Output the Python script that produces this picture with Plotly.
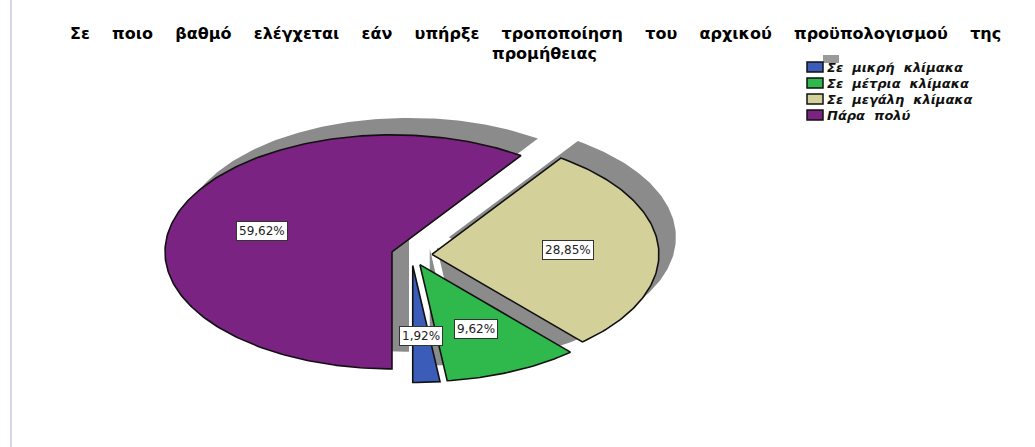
import numpy as np
import plotly.graph_objects as go

# ---- data ----
categories = ["Σε μικρή κλίμακα", "Σε μέτρια κλίμακα", "Σε μεγάλη κλίμακα", "Πάρα πολύ"]
percentages = [1.92, 9.62, 28.85, 59.62]
slice_colors = ["#3b5cb8", "#2fb84b", "#d4d09a", "#7a2382"]
title_words = ["Σε", "ποιο", "βαθμό", "ελέγχεται", "εάν", "υπήρξε", "τροποποίηση",
               "του", "αρχικού", "προϋπολογισμού", "της"]
title_tail = "προμήθειας"

# ---- layout constants (pixels) ----
W, H = 1035, 447
CX, CY = 411.5, 255.0       # pie centre
RX, RY = 227.0, 117.0       # horizontal / vertical radius of the flattened pie
EXPLODE = 0.09              # slice offset, fraction of radius
SHADOW_DX, SHADOW_DY = 17.0, 17.0   # drop-shadow offset (right, up)
LABEL_R = 0.6
SHADOW_COLOR = "#8b8b8b"

fig = go.Figure()

# angular extents: start at six o'clock and run counter-clockwise
fractions = np.array(percentages) / np.sum(percentages)
start = -np.pi / 2 + 2 * np.pi * np.concatenate([[0], np.cumsum(fractions)[:-1]])
end = start + 2 * np.pi * fractions
mid = (start + end) / 2

def wedge(a0, a1, ox, oy):
    t = np.linspace(a0, a1, max(8, int(np.degrees(a1 - a0))))
    xs = np.concatenate([[ox], ox + np.cos(t), [ox]])
    ys = np.concatenate([[oy], oy + np.sin(t), [oy]])
    return xs, ys

sdx, sdy = SHADOW_DX / RX, SHADOW_DY / RY

# shadows first, then the slices on top
for a0, a1, am in zip(start, end, mid):
    ox, oy = EXPLODE * np.cos(am), EXPLODE * np.sin(am)
    xs, ys = wedge(a0, a1, ox + sdx, oy + sdy)
    fig.add_trace(go.Scatter(x=xs, y=ys, mode="lines", fill="toself",
                             fillcolor=SHADOW_COLOR, line=dict(width=0),
                             hoverinfo="skip", showlegend=False))

for name, a0, a1, am, col in zip(categories, start, end, mid, slice_colors):
    ox, oy = EXPLODE * np.cos(am), EXPLODE * np.sin(am)
    xs, ys = wedge(a0, a1, ox, oy)
    fig.add_trace(go.Scatter(x=xs, y=ys, mode="lines", fill="toself",
                             fillcolor=col, line=dict(color="#111111", width=1.6),
                             name=name, hoverinfo="name", showlegend=False))

# percentage labels (smallest slice drawn last so it sits on top)
for v, am in list(zip(percentages, mid))[::-1]:
    ox, oy = EXPLODE * np.cos(am), EXPLODE * np.sin(am)
    fig.add_annotation(x=ox + LABEL_R * np.cos(am), y=oy + LABEL_R * np.sin(am),
                       xref="x", yref="y", showarrow=False,
                       text=f"{v:.2f}".replace(".", ",") + "%",
                       font=dict(family="DejaVu Sans", size=12, color="#222222"),
                       bgcolor="white", bordercolor="#333333", borderwidth=1, borderpad=2)

# ---- legend drawn by hand (compact rows) ----
def px(x):
    return x / W

def py(y):
    return 1 - y / H

# grey swatch for the shadow
fig.add_shape(type="rect", xref="paper", yref="paper",
              x0=px(823), x1=px(839), y0=py(63), y1=py(55),
              fillcolor="#9a9a9a", line=dict(width=0))
row_y = [67, 83, 99, 115]
for name, col, yc in zip(categories, slice_colors, row_y):
    fig.add_shape(type="rect", xref="paper", yref="paper",
                  x0=px(807), x1=px(823), y0=py(yc + 5), y1=py(yc - 5),
                  fillcolor=col, line=dict(color="#111111", width=1.5))
    fig.add_annotation(x=px(825), y=py(yc), xref="paper", yref="paper",
                       xanchor="left", yanchor="middle", showarrow=False,
                       text=name.replace(" ", "\u00a0\u00a0"),
                       font=dict(family="DejaVu Sans", size=13, color="#111111",
                                 style="italic", weight="bold"))

# thin frame line on the left edge
fig.add_shape(type="line", xref="paper", yref="paper",
              x0=px(11), x1=px(11), y0=0, y1=1,
              line=dict(color="#d6d6ea", width=2))

# two-line heading
gap = "\u00a0\u00a0\u00a0\u00a0"
title_font = dict(family="DejaVu Sans", size=16, color="black", weight="bold")
fig.add_annotation(x=px(535), y=py(33), xref="paper", yref="paper",
                   xanchor="center", yanchor="middle", showarrow=False,
                   text=gap.join(title_words), font=title_font)
fig.add_annotation(x=px(544), y=py(53), xref="paper", yref="paper",
                   xanchor="center", yanchor="middle", showarrow=False,
                   text=title_tail, font=title_font)

fig.update_layout(
    width=W, height=H,
    margin=dict(l=0, r=0, t=0, b=0),
    paper_bgcolor="white", plot_bgcolor="white",
    showlegend=False,
    xaxis=dict(visible=False, range=[(0 - CX) / RX, (W - CX) / RX], fixedrange=True),
    yaxis=dict(visible=False, range=[(CY - H) / RY, CY / RY], fixedrange=True),
)

fig.write_html("out.html")
